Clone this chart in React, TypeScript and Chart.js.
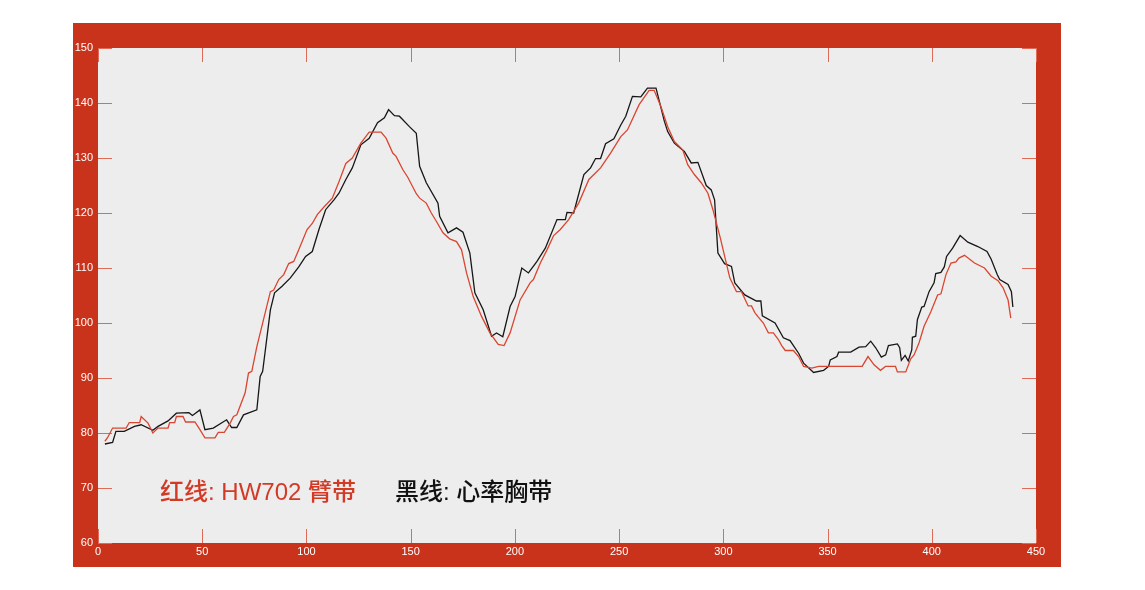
// Heart-rate comparison: HW702 arm band (red) vs chest strap (black).
import { useEffect, useRef } from "react";
import { Chart, registerables } from "chart.js";

Chart.register(...registerables);

const redX = [
  3.3, 4.5, 7, 13.5, 15, 20, 20.7, 24, 26.3, 28.8, 33.6, 34.4, 36.8, 37.6, 40.8, 42, 46.5, 48.9, 51.3, 56.1,
  57.7, 60.6, 63.4, 65, 66.6, 70.6, 72.2, 73.8, 76.2, 79.4, 82.7, 84.3, 86.7, 89.1, 91.5, 93.9, 96.3, 100.3,
  102.8, 105.2, 108.4, 112.4, 115.6, 118.9, 122, 126.1, 130.1, 135.8, 138.2, 141.4, 143, 146.2, 148.6, 152.7,
  154.3, 157.5, 159.9, 162.3, 165.5, 168.7, 172, 174.4, 176.8, 180, 184, 188, 192, 194.8, 197.7, 202.5, 207.3,
  208.9, 212.2, 215.4, 218.6, 221.8, 225.8, 230.6, 235.5, 241.1, 245.9, 250.8, 254, 259.6, 264.4, 266.8, 270,
  273.3, 276.5, 280.5, 282.9, 286.1, 289.4, 292.6, 295, 298.6, 303.1, 306.3, 308.7, 311.9, 313.5, 315.1, 316.7,
  319.2, 321.6, 324, 326.4, 328, 329.7, 333.6, 336.1, 338.5, 342.5, 345.7, 366.6, 369.4, 372.3, 375.4, 377.8,
  382.6, 383.5, 387.5, 389.9, 391.5, 393.9, 396.3, 399.6, 402.8, 404.4, 406.8, 409.2, 411.6, 413, 415.7, 420.5,
  425.3, 428.5, 431.8, 434.2, 436.6, 437.9,
];
const redY = [
  78.5, 79.1, 80.9, 80.9, 81.9, 81.9, 83, 81.8, 80, 80.9, 80.9, 81.9, 81.9, 83, 83, 82, 82, 80.6, 79.1, 79.1,
  80.1, 80.1, 81.8, 83, 83.3, 87.3, 90.9, 91.2, 95.7, 100.6, 105.7, 106, 107.9, 108.8, 110.8, 111.2, 113.3, 117,
  118.1, 119.7, 121.1, 122.7, 125.7, 129, 130, 132.7, 134.7, 134.7, 133.6, 130.9, 130.3, 127.9, 126.5, 123.5,
  122.7, 121.8, 120, 118.5, 116.4, 115.3, 114.8, 113.3, 109.1, 104.8, 101.2, 98.2, 96.1, 95.9, 98.2, 104.2, 107.3,
  107.9, 110.9, 113.3, 115.9, 117, 118.8, 121.8, 126.1, 128.2, 130.9, 133.9, 135.1, 139.7, 142.3, 142.3, 139.4,
  135.7, 133, 131.5, 128.8, 127, 125.5, 123.6, 120.6, 115.4, 108.2, 105.7, 105.7, 103.1, 103.1, 101.9, 101.1,
  100, 98.2, 98.2, 97, 95.9, 95, 95, 93.9, 92.1, 91.8, 92.1, 92.1, 93.9, 92.4, 91.4, 92.1,
  92.1, 91.1, 91.1, 93.5, 94.2, 96.4, 99.4, 102.1, 105.1, 105.3, 108.8, 110.9, 111.1, 111.8, 112.3, 110.9,
  110, 108.5, 107.7, 106.4, 104.2, 100.9,
];

const blackX = [
  3.3, 7, 8.6, 12.6, 17.5, 20.7, 26.3, 28.8, 33.6, 37.6, 43.6, 45.3, 48.9, 51.3, 55.3, 61.7, 64.1, 66.6, 69.8,
  76.2, 77.8, 79, 82.7, 84.7, 88.3, 92.3, 96.3, 99.6, 102.8, 106, 109.2, 113.2, 115.6, 118.9, 122, 126.1, 130.1,
  134.1, 137.4, 139.4, 142.2, 144.6, 149.4, 152.7, 154.3, 157.5, 163.1, 163.9, 167.9, 172, 175.1, 178.4, 180.8,
  184.8, 188.8, 191.2, 194.2, 197.7, 200.1, 203.3, 206.5, 210.6, 214.6, 220.2, 224.2, 225, 228.2, 233.1, 236.3,
  238.7, 241.1, 243.5, 247.5, 250.8, 253.2, 256.4, 260.4, 263.6, 267.7, 271.7, 273.3, 276.5, 281.3, 284.6, 287.8,
  291.8, 294.2, 295.8, 297.4, 300.6, 303.9, 305.5, 310.3, 315.9, 318, 318.7, 324.8, 328.8, 332, 336.1, 338.5,
  343.3, 348.1, 350.5, 351.3, 354.5, 355.3, 361.1, 365.1, 368.3, 370.7, 373.1, 375.8, 377.9, 379.2, 383.5, 384.6,
  385.4, 387.2, 388.7, 390.4, 390.7, 392.3, 393.1, 395.2, 396.3, 398.7, 401.1, 401.9, 404.4, 406, 407.1, 410,
  413.6, 417.3, 422.1, 426.5, 428.5, 431.4, 432.6, 436.6, 438.2, 438.9,
];
const blackY = [
  78, 78.3, 80.3, 80.3, 81.2, 81.5, 80.5, 81.2, 82.2, 83.6, 83.7, 83.2, 84.2, 80.6, 80.9, 82.4, 81, 81, 83.3,
  84.2, 90.3, 91.2, 102.4, 105.5, 106.7, 108.2, 110.2, 112.1, 113, 117, 120.6, 122.4, 123.6, 126.1, 128.2, 132.4, 133.6,
  136.4, 137.3, 138.8, 137.7, 137.6, 135.7, 134.5, 128.5, 125.5, 121.8, 119.4, 116.4, 117.3, 116.5, 112.7, 105.5,
  102.4, 97.6, 98.2, 97.5, 103, 104.8, 110, 109.1, 111.2, 113.6, 118.8, 118.8, 120.1, 120, 127, 128.2,
  129.9, 129.9, 132.6, 133.5, 136, 137.6, 141.2, 141.1, 142.7, 142.7, 136.7, 134.8, 132.7, 131.2, 129.1, 129.2,
  125, 124.2, 122.4, 112.7, 110.8, 110.3, 107.3, 105.1, 104, 104, 101.3, 100, 97.3, 96.8, 94.5, 92.7,
  91, 91.4, 92.1, 93.3, 93.9, 94.7, 94.7, 95.6, 95.7, 96.7, 95.5, 93.8, 94.2, 95.9, 96.2, 95.5,
  93.2, 94.1, 93.1, 95.1, 97.4, 97.6, 100.6, 102.9, 103, 105.7, 107.3, 109, 109.2, 110.2, 112.1, 113.6,
  115.9, 114.7, 113.9, 113, 111.6, 108.8, 107.9, 107, 105.7, 102.9,
];

const FRAME_RED = "#ca331b";
const PLOT_GRAY = "#ededed";
const TICK_RED = "#e06a58";
const LINE_RED = "#da4530";
const LINE_BLACK = "#161616";

// red frame + gray axes box + inward ticks on all four sides
const framePlugin = {
  id: "frame",
  beforeDraw(chart: Chart) {
    const { ctx, chartArea: a } = chart;
    ctx.save();
    ctx.fillStyle = FRAME_RED;
    ctx.fillRect(a.left - 25, a.top - 25, a.right - a.left + 50, a.bottom - a.top + 49);
    ctx.fillStyle = PLOT_GRAY;
    ctx.fillRect(a.left, a.top, a.right - a.left, a.bottom - a.top);
    ctx.restore();
  },
  beforeDatasetsDraw(chart: Chart) {
    const { ctx, chartArea: a, scales } = chart;
    const len = 14;
    ctx.save();
    ctx.strokeStyle = TICK_RED;
    ctx.lineWidth = 1;
    ctx.beginPath();
    for (const t of scales.x.ticks) {
      const px = Math.round(scales.x.getPixelForValue(t.value)) + 0.5;
      ctx.moveTo(px, a.bottom); ctx.lineTo(px, a.bottom - len);
      ctx.moveTo(px, a.top); ctx.lineTo(px, a.top + len);
    }
    for (const t of scales.y.ticks) {
      const py = Math.round(scales.y.getPixelForValue(t.value)) + 0.5;
      ctx.moveTo(a.left, py); ctx.lineTo(a.left + len, py);
      ctx.moveTo(a.right, py); ctx.lineTo(a.right - len, py);
    }
    ctx.stroke();
    ctx.restore();
  },
};

const tickFont = { family: "'Liberation Sans', Arial, sans-serif", size: 11 };

export default function App() {
  const ref = useRef<HTMLCanvasElement>(null);

  useEffect(() => {
    if (!ref.current) return;
    const chart = new Chart(ref.current, {
      type: "line",
      data: {
        datasets: [
          {
            label: "红线: HW702 臂带",
            data: redX.map((x, i) => ({ x, y: redY[i] })),
            borderColor: LINE_RED,
            borderWidth: 1.3,
            pointRadius: 0,
            tension: 0,
          },
          {
            label: "黑线: 心率胸带",
            data: blackX.map((x, i) => ({ x, y: blackY[i] })),
            borderColor: LINE_BLACK,
            borderWidth: 1.3,
            pointRadius: 0,
            tension: 0,
          },
        ],
      },
      options: {
        responsive: false,
        animation: false,
        layout: { padding: { left: 58, top: 48, right: 109, bottom: 23 } },
        plugins: { legend: { display: false }, tooltip: { enabled: false } },
        scales: {
          x: {
            type: "linear",
            min: 0,
            max: 450,
            grid: { display: false, drawTicks: false },
            border: { display: false },
            ticks: { stepSize: 50, color: "#ffffff", font: tickFont, padding: 2, maxRotation: 0 },
            afterFit: (s) => { s.height = 24; },
          },
          y: {
            min: 60,
            max: 150,
            grid: { display: false, drawTicks: false },
            border: { display: false },
            ticks: { stepSize: 10, color: "#ffffff", font: tickFont, padding: 5 },
            afterFit: (s) => { s.width = 40; },
          },
        },
      },
      plugins: [framePlugin],
    });
    return () => chart.destroy();
  }, []);

  const legendFont = "'Liberation Sans', 'Noto Sans CJK SC', sans-serif";
  const legendStyle = {
    position: "absolute" as const,
    top: 480,
    fontFamily: legendFont,
    fontSize: 24,
    fontWeight: 500,
    lineHeight: "24px",
    whiteSpace: "nowrap" as const,
  };
  return (
    <div style={{ position: "absolute", left: 0, top: 0, width: 1145, height: 590, background: "#fff" }}>
      <canvas ref={ref} width={1145} height={590} />
      <span style={{ ...legendStyle, left: 160, color: "#d33a26" }}>红线: HW702 臂带</span>
      <span style={{ ...legendStyle, left: 395, color: "#111111" }}>黑线: 心率胸带</span>
    </div>
  );
}
